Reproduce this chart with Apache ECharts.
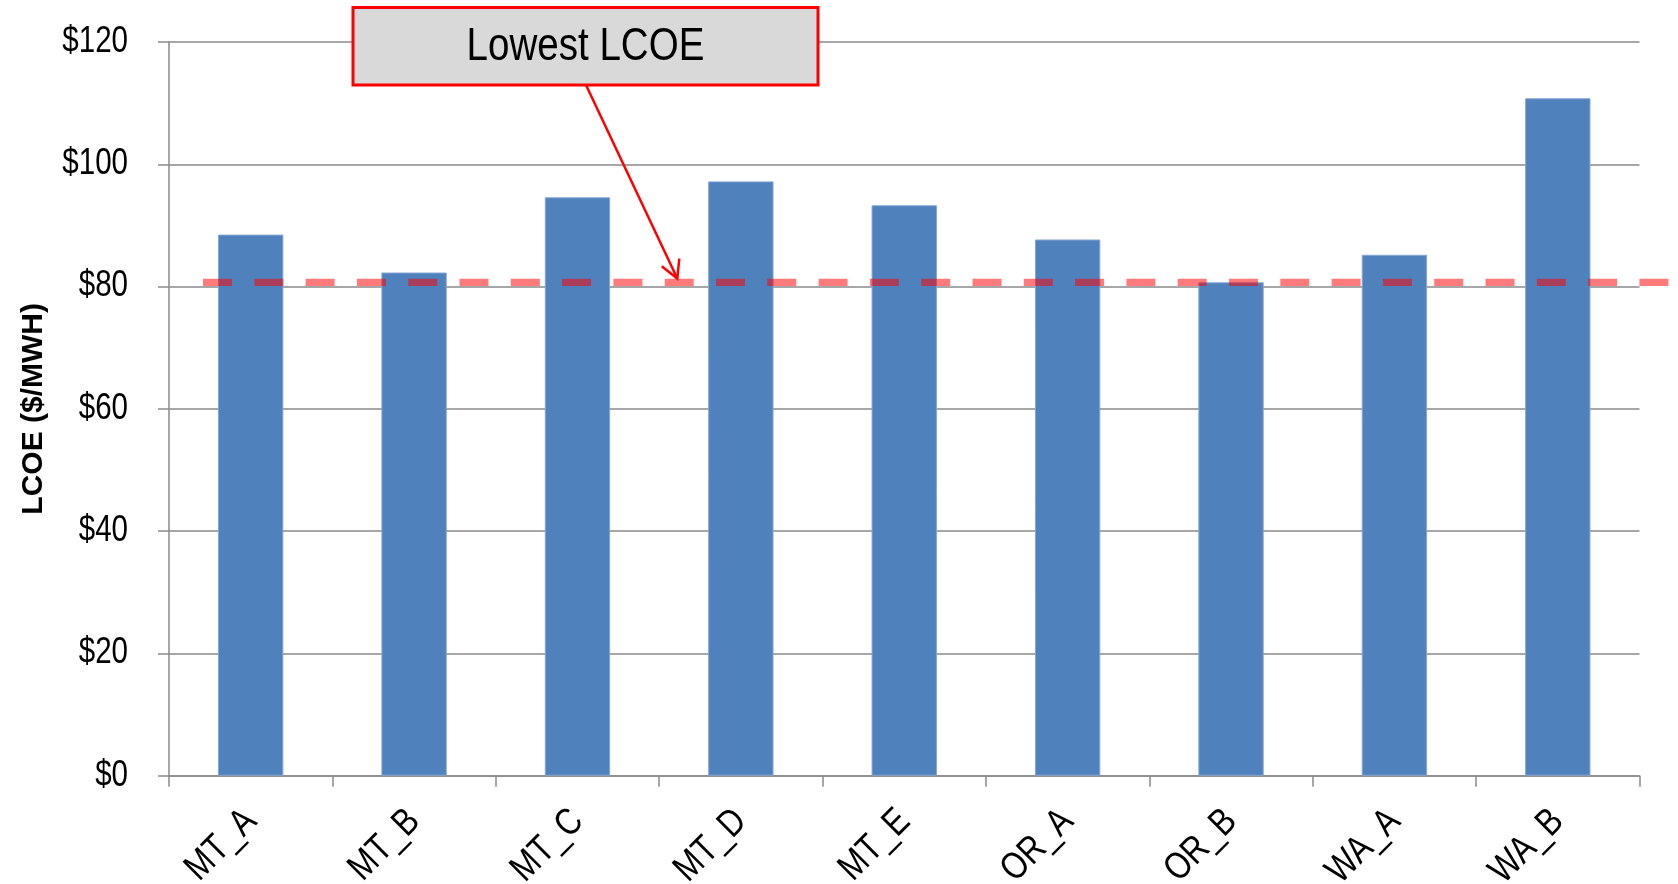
<!DOCTYPE html>
<html>
<head>
<meta charset="utf-8">
<title>LCOE by site</title>
<script src="https://cdn.jsdelivr.net/npm/echarts@6/dist/echarts.min.js"></script>
<style>
  html, body { margin: 0; padding: 0; background: #ffffff; }
  #chart { width: 1678px; height: 884px; }
</style>
</head>
<body>
<div id="chart"></div>
<script>
// Levelized cost of energy per candidate site ($/MWh)
const categories = ['MT_A', 'MT_B', 'MT_C', 'MT_D', 'MT_E', 'OR_A', 'OR_B', 'WA_A', 'WA_B'];
const lcoeValues = [88.5, 82.3, 94.6, 97.2, 93.3, 87.7, 80.7, 85.2, 110.8];
const yTickValues = [0, 20, 40, 60, 80, 100, 120];
const yTickLabels = yTickValues.map((v) => '$' + v);
const yAxisTitle = 'LCOE ($/MWH)';
const calloutText = 'Lowest LCOE';

const yMin = yTickValues[0];
const yMax = yTickValues[yTickValues.length - 1];
const yStep = yTickValues[1] - yTickValues[0];

// Reference level drawn across the chart: the cheapest site
const lowestLcoe = Math.min(...lcoeValues);

// Narrow sans look: Liberation Sans squeezed horizontally
const SANS = "'Liberation Sans', Arial, sans-serif";
const NARROW_SCALE = 0.82;
const AXIS_GREY = '#8a8a8a';
const RED = '#ff0000';

const chart = echarts.init(document.getElementById('chart'), null, { renderer: 'canvas' });

const option = {
  backgroundColor: '#ffffff',
  animation: false,
  grid: [
    { left: 169, right: 38.5, top: 42, bottom: 108.3, outerBoundsMode: 'none', containLabel: false },
    // overlay grid that carries the dashed "lowest" level line
    { left: 203, right: 9, top: 42, bottom: 108.3, outerBoundsMode: 'none', containLabel: false }
  ],
  xAxis: [
    {
      type: 'category',
      gridIndex: 0,
      data: categories,
      boundaryGap: true,
      axisLine: { show: true, lineStyle: { color: AXIS_GREY, width: 1.5 } },
      axisTick: { show: true, length: 11, alignWithLabel: false, lineStyle: { color: AXIS_GREY, width: 1.5 } },
      axisLabel: { show: false },
      splitLine: { show: false }
    },
    { type: 'value', gridIndex: 1, min: 0, max: 1, show: false }
  ],
  yAxis: [
    {
      type: 'value',
      gridIndex: 0,
      min: yMin,
      max: yMax,
      interval: yStep,
      name: yAxisTitle,
      nameLocation: 'middle',
      nameRotate: 90,
      nameGap: 120,
      nameTextStyle: {
        fontFamily: SANS,
        fontWeight: 'bold',
        fontSize: 30,
        color: '#000000'
      },
      axisLine: { show: true, lineStyle: { color: AXIS_GREY, width: 1.5 } },
      axisTick: { show: true, length: 11, lineStyle: { color: AXIS_GREY, width: 1.5 } },
      axisLabel: { show: false },
      splitLine: { show: true, lineStyle: { color: AXIS_GREY, width: 1.5 } }
    },
    { type: 'value', gridIndex: 1, min: yMin, max: yMax, show: false }
  ],
  series: [
    {
      name: 'LCOE',
      type: 'bar',
      xAxisIndex: 0,
      yAxisIndex: 0,
      data: lcoeValues,
      barWidth: '40%',
      itemStyle: { color: '#4f81bd', borderColor: '#86a7d3', borderWidth: 1 },
      silent: true
    },
    {
      name: 'Lowest LCOE',
      type: 'line',
      xAxisIndex: 1,
      yAxisIndex: 1,
      data: [[0, lowestLcoe], [1, lowestLcoe]],
      symbol: 'none',
      silent: true,
      lineStyle: { color: 'rgba(255, 0, 0, 0.52)', width: 7.3, type: [29, 22.3], cap: 'butt' }
    }
  ]
};

chart.setOption(option);

// Tick labels, placed with the axes' own scales
const gridLeft = chart.getModel().getComponent('grid', 0).coordinateSystem.getRect().x;
const zeroY = chart.convertToPixel({ yAxisIndex: 0 }, yMin);

const labelGraphics = [];

yTickValues.forEach((v, i) => {
  labelGraphics.push({
    type: 'text',
    silent: true,
    x: gridLeft - 41,
    y: chart.convertToPixel({ yAxisIndex: 0 }, v),
    scaleX: NARROW_SCALE,
    style: {
      text: yTickLabels[i],
      fontFamily: SANS,
      fontSize: 36,
      fill: '#000000',
      align: 'right',
      verticalAlign: 'middle'
    }
  });
});

categories.forEach((c) => {
  labelGraphics.push({
    type: 'text',
    silent: true,
    x: chart.convertToPixel({ xAxisIndex: 0 }, c),
    y: zeroY + 40,
    rotation: Math.PI / 4,
    scaleX: NARROW_SCALE,
    style: {
      text: c,
      fontFamily: SANS,
      fontSize: 38,
      fill: '#000000',
      align: 'right',
      verticalAlign: 'middle'
    }
  });
});

// Callout box with an arrow pointing at the lowest-LCOE level
const levelY = chart.convertToPixel({ yAxisIndex: 1 }, lowestLcoe);
const tipX = 677.3;
const tipY = levelY - 3.7;

const calloutGraphics = [
  {
    type: 'line',
    silent: true,
    z: 100,
    shape: { x1: 586, y1: 85, x2: tipX, y2: tipY },
    style: { stroke: RED, lineWidth: 2.5 }
  },
  {
    type: 'polyline',
    silent: true,
    z: 100,
    shape: { points: [[tipX - 15.6, tipY - 12.3], [tipX, tipY], [tipX + 2, tipY - 20]] },
    style: { stroke: RED, lineWidth: 2.5, fill: null }
  },
  {
    type: 'rect',
    silent: true,
    z: 101,
    shape: { x: 353, y: 7.5, width: 465, height: 77.5 },
    style: { fill: '#d9d9d9', stroke: RED, lineWidth: 3 }
  },
  {
    type: 'text',
    silent: true,
    z: 102,
    x: 585.5,
    y: 47,
    scaleX: NARROW_SCALE,
    style: {
      text: calloutText,
      fontFamily: SANS,
      fontSize: 47,
      fill: '#000000',
      align: 'center',
      verticalAlign: 'middle'
    }
  }
];

chart.setOption({ graphic: labelGraphics.concat(calloutGraphics) });
</script>
</body>
</html>
